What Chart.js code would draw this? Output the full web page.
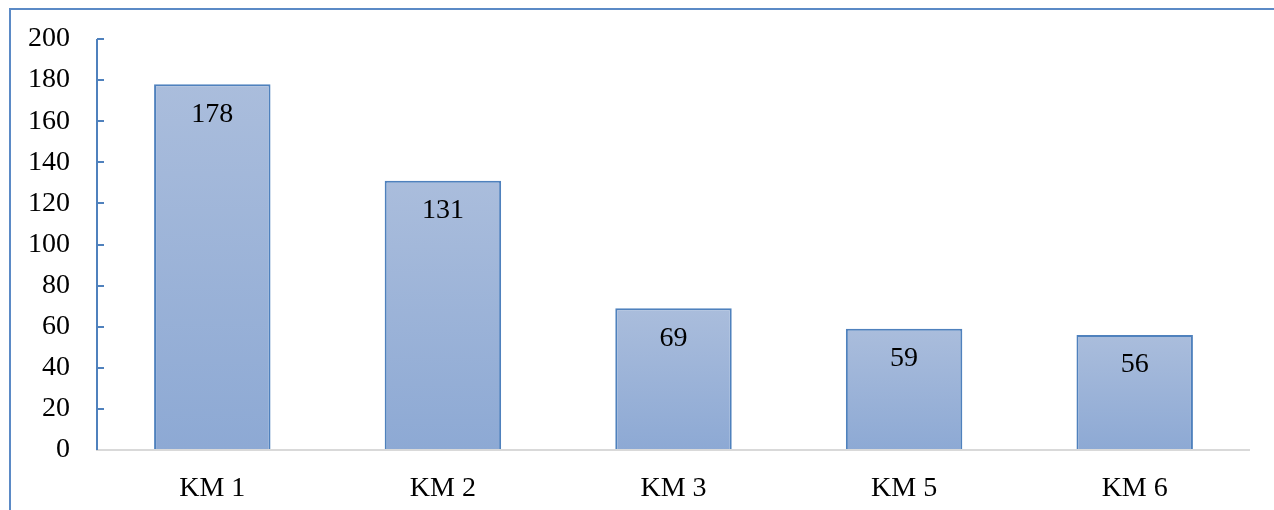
<!DOCTYPE html>
<html>
<head>
<meta charset="utf-8">
<script src="https://cdn.jsdelivr.net/npm/chart.js@4/dist/chart.umd.min.js"></script>
<style>
  html, body { margin: 0; padding: 0; background: #fff; overflow: hidden; }
  #wrap { position: relative; width: 1274px; height: 510px; }
  #frame { position: absolute; left: 9px; top: 8px; width: 1400px; height: 600px;
           border-left: 2px solid #5b8ac6; border-top: 2px solid #5b8ac6; }
  canvas { position: absolute; left: 0; top: 0; }
</style>
</head>
<body>
<div id="wrap">
  <div id="frame"></div>
  <canvas id="c" width="1274" height="510"></canvas>
</div>
<script>
const categories = ["KM 1", "KM 2", "KM 3", "KM 5", "KM 6"];
const values = [178, 131, 69, 59, 56];
const yTicks = [0, 20, 40, 60, 80, 100, 120, 140, 160, 180, 200];

const FONT = "'Liberation Serif', 'Times New Roman', serif";

function barGradient(ctx) {
  const chart = ctx.chart;
  const ys = chart.scales && chart.scales.y;
  if (!ys || ctx.parsed === undefined) return '#9db3d9';
  const top = ys.getPixelForValue(ctx.parsed.y);
  const bottom = ys.getPixelForValue(0);
  if (!isFinite(top) || !isFinite(bottom) || top === bottom) return '#9db3d9';
  const g = chart.ctx.createLinearGradient(0, top, 0, bottom);
  g.addColorStop(0, '#aabddc');
  g.addColorStop(1, '#8da9d4');
  return g;
}

const insideTicksAndLabels = {
  id: 'insideTicksAndLabels',
  afterDatasetsDraw(chart) {
    const ctx = chart.ctx;
    const ys = chart.scales.y;
    const area = chart.chartArea;
    ctx.save();
    ctx.strokeStyle = '#d9d9d9';
    ctx.lineWidth = 2;
    ctx.beginPath();
    ctx.moveTo(area.left - 1, ys.getPixelForValue(0));
    ctx.lineTo(area.right, ys.getPixelForValue(0));
    ctx.stroke();
    ctx.strokeStyle = '#4f81bd';
    ctx.lineWidth = 2;
    ctx.beginPath();
    ctx.moveTo(area.left, ys.getPixelForValue(yTicks[yTicks.length - 1]));
    ctx.lineTo(area.left, ys.getPixelForValue(0));
    ctx.stroke();
    yTicks.forEach(v => {
      if (v === 0) return;
      const py = Math.round(ys.getPixelForValue(v));
      ctx.beginPath();
      ctx.moveTo(area.left, py);
      ctx.lineTo(area.left + 7, py);
      ctx.stroke();
    });
    const meta = chart.getDatasetMeta(0);
    ctx.fillStyle = '#000';
    ctx.font = '28px ' + FONT;
    ctx.textAlign = 'center';
    ctx.textBaseline = 'middle';
    meta.data.forEach((bar, i) => {
      ctx.fillText(String(values[i]), bar.x, bar.y + 30);
    });
    ctx.restore();
  }
};

new Chart(document.getElementById('c'), {
  type: 'bar',
  data: {
    labels: categories,
    datasets: [{
      data: values,
      backgroundColor: barGradient,
      borderColor: '#4f81bd',
      borderWidth: 2,
      barPercentage: 0.505,
      categoryPercentage: 1.0
    }]
  },
  options: {
    responsive: false,
    animation: false,
    devicePixelRatio: 1,
    layout: { padding: { left: 0, top: 39, right: 24, bottom: 0 } },
    plugins: { legend: { display: false }, tooltip: { enabled: false } },
    scales: {
      x: {
        grid: { display: false, drawTicks: false },
        border: { display: false },
        ticks: { color: '#000', font: { family: FONT, size: 28 }, padding: 22 },
        afterFit(scale) { scale.height = 60; scale.paddingLeft = 0; scale.paddingRight = 0; }
      },
      y: {
        min: 0, max: 200,
        afterBuildTicks(scale) { scale.ticks = yTicks.map(v => ({ value: v })); },
        grid: { display: false, drawTicks: false },
        border: { display: false },
        ticks: { color: '#000', font: { family: FONT, size: 28 }, padding: 27 },
        afterFit(scale) { scale.width = 97; scale.paddingTop = 0; scale.paddingBottom = 0; }
      }
    }
  },
  plugins: [insideTicksAndLabels]
});
</script>
</body>
</html>
